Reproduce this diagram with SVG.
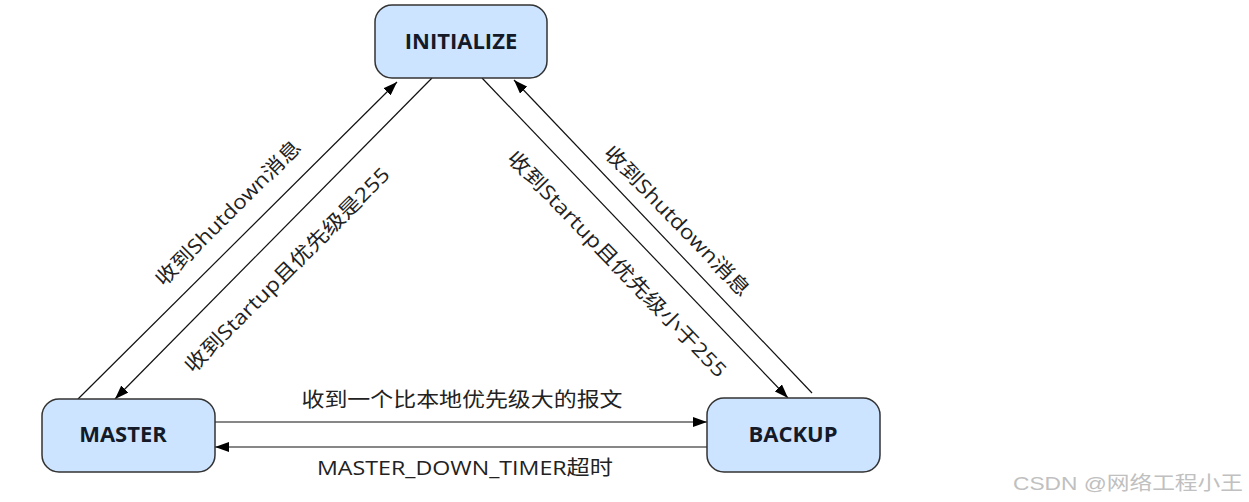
<svg xmlns="http://www.w3.org/2000/svg" width="1249" height="502" viewBox="0 0 1249 502">
  <style>
    .box { fill: #cce4ff; stroke: #333333; stroke-width: 1.5; }
    .nlabel { font-family: "Open Sans", "Noto Sans CJK SC", sans-serif; font-weight: bold; font-size: 22px; fill: #141a28; text-anchor: middle; }
    .elabel { font-family: "Open Sans", "Noto Sans CJK SC", sans-serif; font-size: 20px; fill: #222222; text-anchor: middle; }
    .conn { stroke: #111111; stroke-width: 1.2; fill: none; marker-end: url(#arrow); }
    .wm { font-family: "Liberation Sans", "Noto Sans CJK SC", sans-serif; font-size: 19px; fill: #c0c0c0; }
  </style>
  <defs>
    <marker id="arrow" markerUnits="userSpaceOnUse" markerWidth="14" markerHeight="10" refX="14" refY="5" orient="auto">
      <path d="M0,0 L14,5 L0,10 z" fill="#000000"/>
    </marker>
  </defs>
  <rect width="1249" height="502" fill="#ffffff"/>

  <g id="connectors">
    <line class="conn" x1="78" y1="399" x2="397" y2="82"/>
    <line class="conn" x1="432" y1="78" x2="115" y2="399"/>
    <line class="conn" x1="482" y1="78" x2="788" y2="398"/>
    <line class="conn" x1="812" y1="393" x2="514" y2="80"/>
    <line class="conn" x1="215" y1="422" x2="707" y2="422"/>
    <line class="conn" x1="707" y1="447" x2="215" y2="447"/>
    <text class="elabel" x="233" y="218" textLength="196" lengthAdjust="spacingAndGlyphs" transform="rotate(-45 233 218)">收到Shutdown消息</text>
    <text class="elabel" x="292" y="275" textLength="280" lengthAdjust="spacingAndGlyphs" transform="rotate(-45 292 275)">收到Startup且优先级是255</text>
    <text class="elabel" x="612" y="269" textLength="305" lengthAdjust="spacingAndGlyphs" transform="rotate(46 612 269)">收到Startup且优先级小于255</text>
    <text class="elabel" x="672" y="226" textLength="200" lengthAdjust="spacingAndGlyphs" transform="rotate(46 672 226)">收到Shutdown消息</text>
    <text class="elabel" x="462" y="407" textLength="321" lengthAdjust="spacingAndGlyphs">收到一个比本地优先级大的报文</text>
    <text class="elabel" x="465" y="475" textLength="296" lengthAdjust="spacingAndGlyphs">MASTER_DOWN_TIMER超时</text>
  </g>

  <g id="node-initialize">
    <rect class="box" x="375" y="5" width="172" height="73" rx="17" ry="17"/>
    <text class="nlabel" x="461" y="49">INITIALIZE</text>
  </g>
  <g id="node-master">
    <rect class="box" x="42" y="399" width="173" height="73" rx="17" ry="17"/>
    <text class="nlabel" x="123" y="442">MASTER</text>
  </g>
  <g id="node-backup">
    <rect class="box" x="707" y="398" width="173" height="74" rx="17" ry="17"/>
    <text class="nlabel" x="793" y="442">BACKUP</text>
  </g>

  <text class="wm" x="1013" y="490" textLength="230" lengthAdjust="spacingAndGlyphs">CSDN @网络工程小王</text>
</svg>
